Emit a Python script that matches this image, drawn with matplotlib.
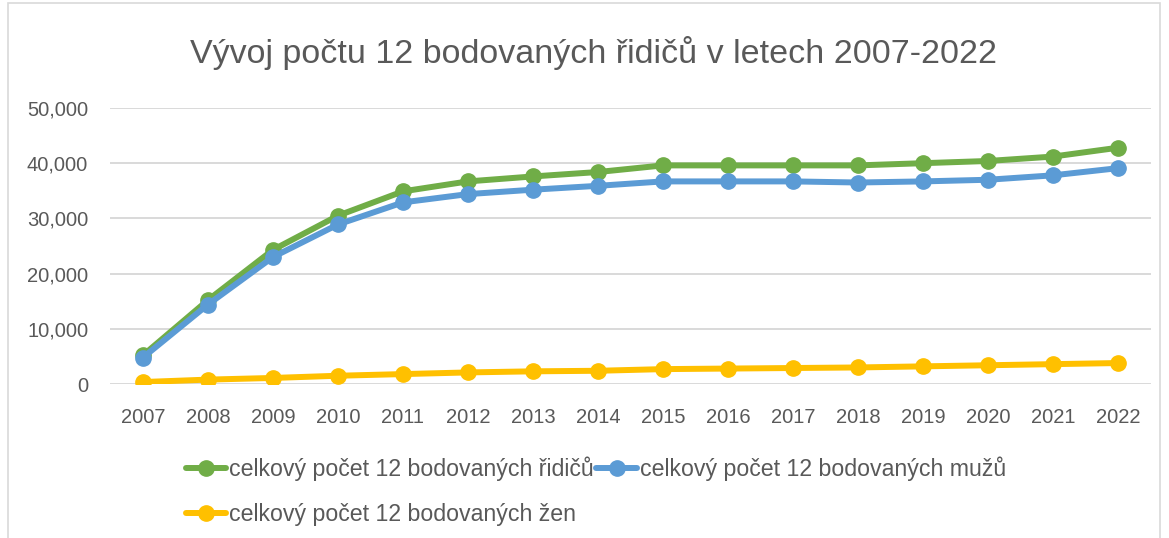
import matplotlib

matplotlib.use("agg")
from matplotlib import pyplot as plt
from matplotlib.patches import Rectangle
from matplotlib.ticker import FuncFormatter

years = [str(y) for y in range(2007, 2023)]
ridici = [5200, 15200, 24300, 30500, 34900, 36700, 37600, 38400,
          39600, 39600, 39600, 39600, 40000, 40400, 41200, 42800]
muzi = [4800, 14400, 23000, 28900, 32900, 34400, 35200, 35900,
        36700, 36700, 36700, 36500, 36700, 37000, 37800, 39100]
zeny = [360, 800, 1100, 1500, 1800, 2100, 2300, 2400,
        2700, 2800, 2900, 3000, 3200, 3400, 3600, 3800]

labels = ["celkový počet 12 bodovaných řidičů",
          "celkový počet 12 bodovaných mužů",
          "celkový počet 12 bodovaných žen"]
colors = ["#70ad47", "#5b9bd5", "#ffc000"]
txt = "#595959"

plt.rcParams["font.family"] = ["Liberation Sans", "DejaVu Sans"]

fig = plt.figure(figsize=(11.69, 5.38), dpi=100)
fig.patches.append(Rectangle((0.007, -0.01), 0.985, 1.005, transform=fig.transFigure,
                             fill=False, edgecolor="#d9d9d9", lw=1.2))
ax = fig.add_axes([0.0945, 0.2862, 0.8897, 0.5131])

x = list(range(len(years)))
lines = []
for vals, c, lab in zip([ridici, muzi, zeny], colors, labels):
    l, = ax.plot(x, vals, color=c, lw=4.3, marker="o", ms=11, label=lab,
                 solid_capstyle="round", zorder=3)
    lines.append(l)

ax.set_xlim(-0.5, len(years) - 0.5)
ax.set_ylim(0, 50000)
ax.set_yticks(range(0, 50001, 10000))
ax.yaxis.set_major_formatter(FuncFormatter(lambda v, p: f"{int(v):,}"))
ax.set_xticks(x)
ax.set_xticklabels(years)
ax.grid(axis="y", color="#d9d9d9", lw=1.4)
ax.set_axisbelow(True)
for s in ax.spines.values():
    s.set_visible(False)
ax.tick_params(length=0, labelsize=14.5, colors=txt)
ax.tick_params(axis="x", pad=17)
ax.tick_params(axis="y", pad=16)

fig.text(0.508, 0.902, "Vývoj počtu 12 bodovaných řidičů v letech 2007-2022",
         ha="center", va="center", fontsize=24.5, color=txt)

leg = fig.legend([lines[0], lines[2], lines[1]], [labels[0], labels[2], labels[1]],
                 ncol=2, loc="upper left", bbox_to_anchor=(0.151, 0.168),
                 frameon=False, fontsize=16.7, labelcolor=txt, handlelength=1.75,
                 handletextpad=0.12, columnspacing=0.1, labelspacing=0.95,
                 borderaxespad=0)
for h in leg.legend_handles:
    h.set_markersize(11)

fig.savefig("out.png", dpi=100)
